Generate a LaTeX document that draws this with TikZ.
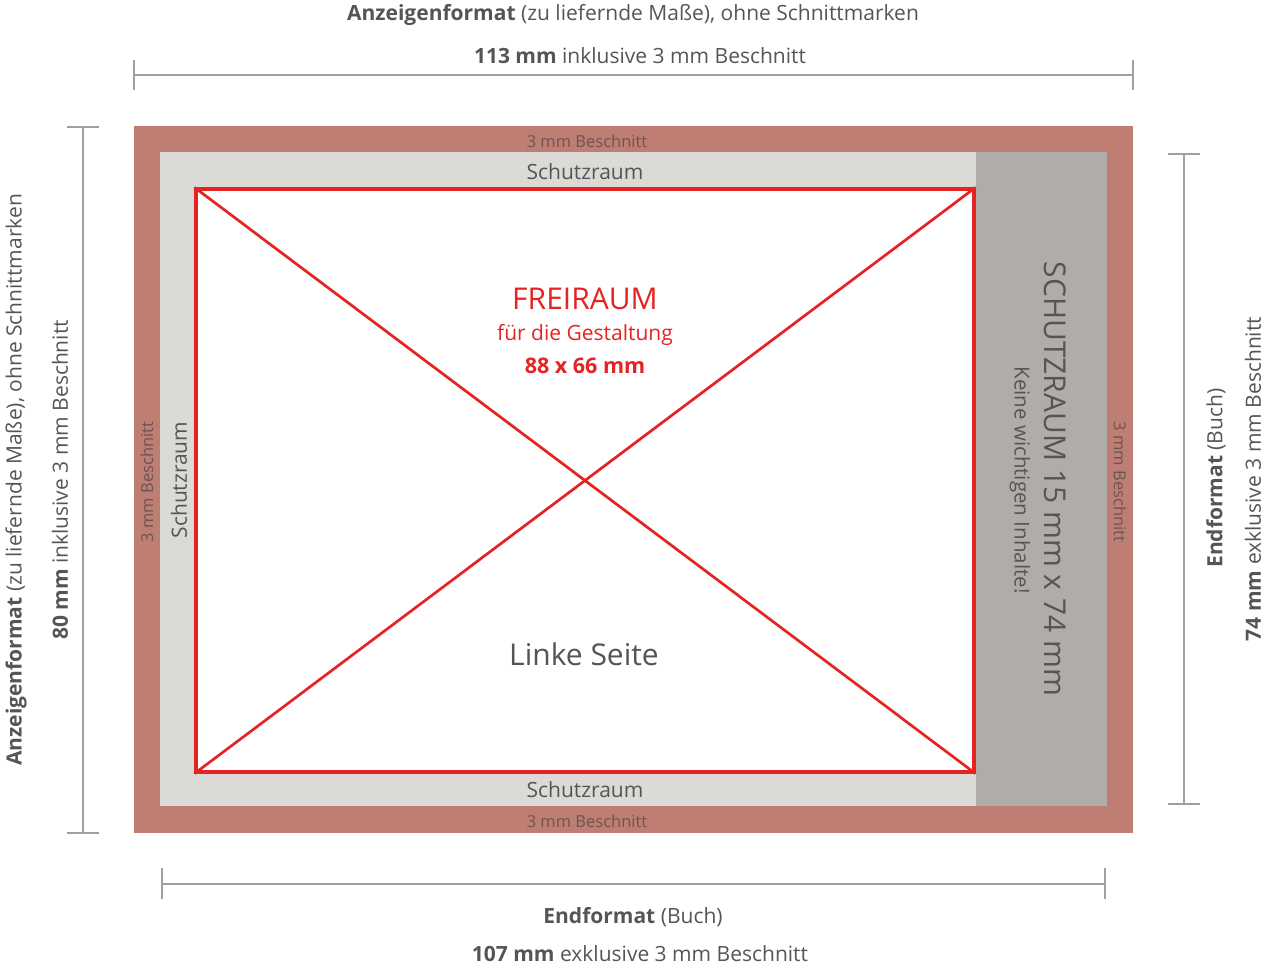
\documentclass[tikz,border=0pt]{standalone}
\usepackage{fontspec}
\setmainfont{Open Sans}
\definecolor{bleed}{HTML}{BF7E74}
\definecolor{safe}{HTML}{DCDAD6}
\definecolor{spine}{HTML}{B0ACA8}
\definecolor{fred}{HTML}{E42422}
\definecolor{dimc}{HTML}{A0A0A0}
\definecolor{txt}{HTML}{555555}
\definecolor{bltxt}{HTML}{6E5450}
\tikzset{
  dimline/.style={draw=dimc, line width=2.2pt},
  lbl/.style={inner sep=0pt, text=txt, font=\fontsize{21}{25}\selectfont},
  small/.style={inner sep=0pt, text=bltxt, font=\fontsize{16.5}{20}\selectfont},
  sz/.style={inner sep=0pt, text=txt, font=\fontsize{21}{25}\selectfont},
}
\begin{document}
\begin{tikzpicture}[x=1pt,y=-1pt]
\useasboundingbox (0,0) rectangle (1265,967);
% areas
\fill[bleed] (134,126) rectangle (1133,833);
\fill[safe] (160,152) rectangle (1107,806);
\fill[spine] (976,152) rectangle (1107,806);
\fill[white] (196,189) rectangle (974,772);
% red frame
\node[draw=fred, line width=3.2pt, minimum width=778pt, minimum height=583pt, inner sep=0pt] (fr) at (585,480.5) {};
\draw[fred, line width=2.7pt] (fr.north west) -- (fr.south east);
\draw[fred, line width=2.7pt] (fr.south west) -- (fr.north east);
% dimension lines
\coordinate (t1) at (134,75); \coordinate (t2) at (1133,75);
\draw[dimline] (t1) -- (t2);
\draw[dimline] (134,60) -- (134,90);
\draw[dimline] (1133,60) -- (1133,90);
\coordinate (l1) at (83,127); \coordinate (l2) at (83,833);
\draw[dimline] (l1) -- (l2);
\draw[dimline] (67,127) -- (99,127);
\draw[dimline] (67,833) -- (99,833);
\coordinate (r1) at (1184,154); \coordinate (r2) at (1184,804);
\draw[dimline] (r1) -- (r2);
\draw[dimline] (1168,154) -- (1200,154);
\draw[dimline] (1168,804) -- (1200,804);
\coordinate (b1) at (162,884); \coordinate (b2) at (1105,884);
\draw[dimline] (b1) -- (b2);
\draw[dimline] (162,868) -- (162,899);
\draw[dimline] (1105,868) -- (1105,899);
% dimension texts
\node[lbl] (tt1) at (633,15) {\textbf{Anzeigenformat} (zu liefernde Maße), ohne Schnittmarken};
\node[lbl] (tt2) at (640,56) {\textbf{113 mm} inklusive 3 mm Beschnitt};
\node[lbl, rotate=90] (lt1) at (16,480) {\textbf{Anzeigenformat} (zu liefernde Maße), ohne Schnittmarken};
\node[lbl, rotate=90] (lt2) at (60,480) {\textbf{80 mm} inklusive 3 mm Beschnitt};
\node[lbl, rotate=90] (rt1) at (1216,478) {\textbf{Endformat} (Buch)};
\node[lbl, rotate=90] (rt2) at (1253,479) {\textbf{74 mm} exklusive 3 mm Beschnitt};
\node[lbl] (bt1) at (633,917) {\textbf{Endformat} (Buch)};
\node[lbl] (bt2) at (640,954) {\textbf{107 mm} exklusive 3 mm Beschnitt};
% bleed labels
\node[small] (bl1) at (587,141) {3 mm Beschnitt};
\node[small] (bl2) at (587,821) {3 mm Beschnitt};
\node[small, rotate=90] (bl3) at (147,482) {3 mm Beschnitt};
\node[small, rotate=-90] (bl4) at (1120,482) {3 mm Beschnitt};
% safe labels
\node[sz] (s1) at (585,172) {Schutzraum};
\node[sz] (s2) at (585,790) {Schutzraum};
\node[sz, rotate=90] (s3) at (179,480) {Schutzraum};
% spine
\node[inner sep=0pt, text=txt, font=\fontsize{30}{36}\selectfont, rotate=-90] (sp1) at (1055,479) {SCHUTZRAUM 15 mm x 74 mm};
\node[inner sep=0pt, text=txt, font=\fontsize{20.5}{24}\selectfont, rotate=-90] (sp2) at (1020,480) {Keine wichtigen Inhalte!};
% center
\node[inner sep=0pt, text=fred, font=\fontsize{30}{36}\selectfont] (f1) at (585,299) {FREIRAUM};
\node[inner sep=0pt, text=fred, font=\fontsize{21}{25}\selectfont] (f2) at (585,335) {für die Gestaltung};
\node[inner sep=0pt, text=fred, font=\fontsize{21.5}{25}\selectfont\bfseries] (f3) at (585,366) {88 x 66 mm};
\node[inner sep=0pt, text=txt, font=\fontsize{30}{36}\selectfont] (ls) at (584,654) {Linke Seite};
\end{tikzpicture}
\end{document}
